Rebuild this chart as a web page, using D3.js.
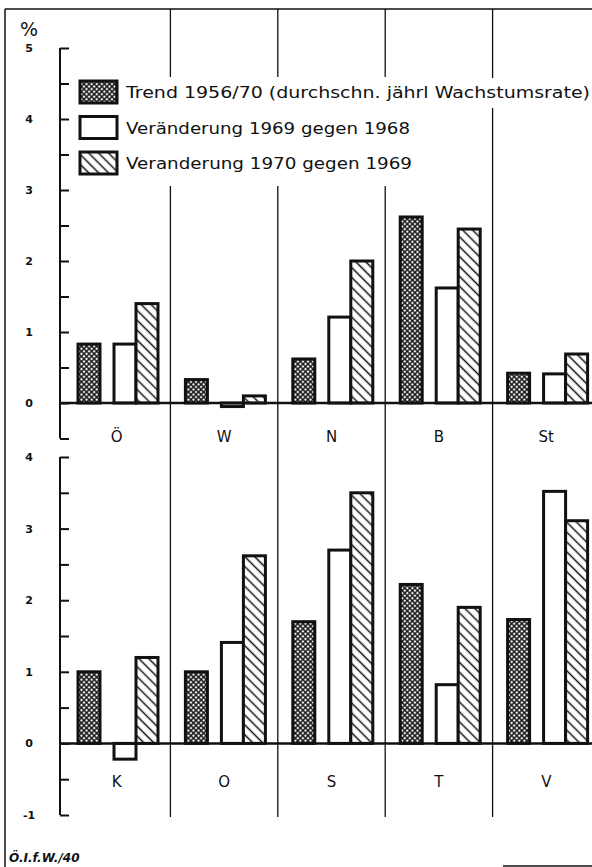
<!DOCTYPE html>
<html>
<head>
<meta charset="utf-8">
<script src="https://cdn.jsdelivr.net/npm/d3@7"></script>
<style>
  body { margin: 0; background: #fff; }
  svg { display: block; }
  text { font-family: "DejaVu Sans", sans-serif; fill: #111; }
</style>
</head>
<body>
<svg width="592" height="867"></svg>
<script>
var groupsTop = ["Ö", "W", "N", "B", "St"];
var groupsBottom = ["K", "O", "S", "T", "V"];
var series = ["trend", "chg69", "chg70"];
var legendLabels = [
  "Trend 1956/70 (durchschn. jährl Wachstumsrate)",
  "Veränderung 1969 gegen 1968",
  "Veranderung 1970 gegen 1969"
];

var trendTop = [0.83, 0.33, 0.62, 2.62, 0.42];
var chg69Top = [0.83, -0.05, 1.21, 1.62, 0.41];
var chg70Top = [1.4, 0.1, 2.0, 2.45, 0.69];

var trendBottom = [1.0, 1.0, 1.7, 2.22, 1.73];
var chg69Bottom = [-0.22, 1.41, 2.7, 0.82, 3.52];
var chg70Bottom = [1.2, 2.62, 3.5, 1.9, 3.11];

var ticksTop = [0, 1, 2, 3, 4, 5];
var ticksBottom = [-1, 0, 1, 2, 3, 4];

var svg = d3.select("svg");
var defs = svg.append("defs");

// dark cross-hatch for the trend bars
var cross = defs.append("pattern")
  .attr("id", "cross")
  .attr("patternUnits", "userSpaceOnUse")
  .attr("width", 3.6).attr("height", 3.6)
  .attr("patternTransform", "rotate(45)");
cross.append("rect").attr("width", 3.6).attr("height", 3.6).attr("fill", "#111");
cross.append("rect").attr("x", 0.7).attr("y", 0.7).attr("width", 2.2).attr("height", 2.2).attr("fill", "#f2f2f2");

// diagonal hatch (top-left to bottom-right) for the 1970 bars
var hatch = defs.append("pattern")
  .attr("id", "hatch")
  .attr("patternUnits", "userSpaceOnUse")
  .attr("width", 7).attr("height", 7)
  .attr("patternTransform", "rotate(45)");
hatch.append("rect").attr("width", 7).attr("height", 7).attr("fill", "#fff");
hatch.append("line").attr("x1", 0).attr("x2", 7).attr("y1", 3.5).attr("y2", 3.5)
  .attr("stroke", "#111").attr("stroke-width", 1.5);

var fills = d3.scaleOrdinal().domain(series).range(["url(#cross)", "#fff", "url(#hatch)"]);
var offset = d3.scaleOrdinal().domain(series).range([15, 51, 73]);
var barW = 22;

var x = d3.scaleBand().domain(d3.range(5)).range([63, 600]);

var yTop = d3.scaleLinear().domain([0, 5]).range([403, 48]);
var yBot = d3.scaleLinear().domain([-1, 4]).range([815, 457]);

// frame
svg.append("line").attr("x1", 5).attr("x2", 592).attr("y1", 9).attr("y2", 9)
  .attr("stroke", "#111").attr("stroke-width", 1.5);
svg.append("line").attr("x1", 5).attr("x2", 5).attr("y1", 9).attr("y2", 867)
  .attr("stroke", "#111").attr("stroke-width", 1.5);
svg.append("line").attr("x1", 503).attr("x2", 592).attr("y1", 866).attr("y2", 866)
  .attr("stroke", "#111").attr("stroke-width", 1.5);

// column dividers
svg.selectAll("line.div")
  .data(d3.range(1, 5))
  .enter()
  .append("line")
  .attr("class", "div")
  .attr("x1", function(d) { return x(d); })
  .attr("x2", function(d) { return x(d); })
  .attr("y1", 9)
  .attr("y2", yBot(-1) + 2)
  .attr("stroke", "#111")
  .attr("stroke-width", 1.3);

function panel(y, groups, trend, chg69, chg70, ticks, minTick, labelY) {
  var rows = groups.map(function(g, i) {
    return { i: i, g: g, vals: [trend[i], chg69[i], chg70[i]] };
  });

  // bracket axis with half-unit ticks
  var axis = svg.append("g")
    .attr("transform", "translate(60,0)")
    .call(d3.axisRight(y)
      .tickValues(d3.range(minTick, y.domain()[1] + 0.01, 0.5))
      .tickSize(9).tickSizeOuter(0).tickFormat(""));
  axis.select(".domain").attr("stroke", "#111").attr("stroke-width", 2)
    .attr("d", "M0," + y(minTick) + "V" + y(y.domain()[1]));
  axis.selectAll(".tick line").attr("stroke", "#111").attr("stroke-width", 2);

  svg.selectAll(null)
    .data(ticks)
    .enter()
    .append("text")
    .attr("x", 29)
    .attr("y", function(d) { return y(d) + 4; })
    .attr("text-anchor", "middle")
    .style("font-size", "11px")
    .style("font-weight", "bold")
    .text(function(d) { return d < 0 ? "-" + Math.abs(d) : d; });

  var grp = svg.selectAll(null)
    .data(rows)
    .enter()
    .append("g");

  grp.selectAll("rect")
    .data(function(r) {
      return r.vals.map(function(v, k) { return { i: r.i, s: series[k], v: v }; });
    })
    .enter()
    .append("rect")
    .attr("x", function(d) { return x(d.i) + offset(d.s); })
    .attr("y", function(d) { return y(Math.max(0, d.v)); })
    .attr("width", barW)
    .attr("height", function(d) { return Math.abs(y(d.v) - y(0)); })
    .attr("fill", function(d) { return fills(d.s); })
    .attr("stroke", "#111")
    .attr("stroke-width", 3);

  // zero line
  svg.append("line")
    .attr("x1", 60).attr("x2", 592)
    .attr("y1", y(0)).attr("y2", y(0))
    .attr("stroke", "#111").attr("stroke-width", 2.5);

  svg.selectAll(null)
    .data(rows)
    .enter()
    .append("text")
    .attr("x", function(d) { return x(d.i) + x.bandwidth() / 2; })
    .attr("y", labelY)
    .attr("text-anchor", "middle")
    .style("font-size", "15px")
    .text(function(d) { return d.g; });
}

panel(yTop, groupsTop, trendTop, chg69Top, chg70Top, ticksTop, -0.5, 442);
panel(yBot, groupsBottom, trendBottom, chg69Bottom, chg70Bottom, ticksBottom, -1, 787);

// legend, with white ground over the dividers
var legend = { x: 80, y: 81, space: 35.5, w: 37, h: 22 };
var legendEnds = [590, 410, 412];

svg.append("rect").attr("x", 74).attr("y", 77).attr("width", 345).attr("height", 109).attr("fill", "#fff");
svg.append("rect").attr("x", 419).attr("y", 78).attr("width", 173).attr("height", 30).attr("fill", "#fff");

svg.selectAll("rect.leg")
  .data(series)
  .enter()
  .append("rect")
  .attr("class", "leg")
  .attr("x", legend.x)
  .attr("y", function(d, i) { return legend.y + legend.space * i; })
  .attr("width", legend.w)
  .attr("height", legend.h)
  .attr("fill", function(d) { return fills(d); })
  .attr("stroke", "#111")
  .attr("stroke-width", 3);

svg.selectAll("text.leg")
  .data(legendLabels)
  .enter()
  .append("text")
  .attr("class", "leg")
  .attr("x", 126)
  .attr("y", function(d, i) { return legend.y + legend.space * i + 17; })
  .attr("textLength", function(d, i) { return legendEnds[i] - 126; })
  .attr("lengthAdjust", "spacingAndGlyphs")
  .style("font-size", "16px")
  .text(function(d) { return d; });

svg.append("text").attr("x", 20).attr("y", 36)
  .style("font-size", "19px")
  .text("%");

svg.append("text").attr("x", 9).attr("y", 862)
  .style("font-size", "12px")
  .style("font-weight", "bold")
  .style("font-style", "italic")
  .text("Ö.I.f.W./40");
</script>
</body>
</html>
